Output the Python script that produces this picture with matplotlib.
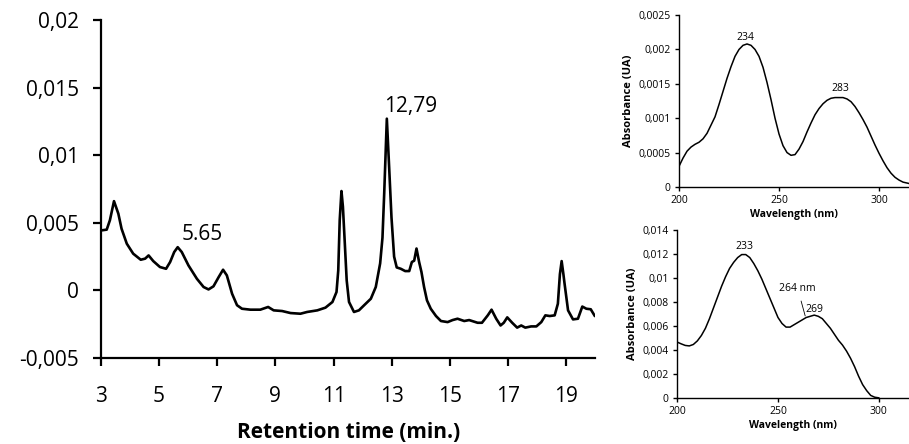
import matplotlib
matplotlib.use("Agg")
import matplotlib.pyplot as plt

plt.rcParams['font.family'] = ['Open Sans', 'DejaVu Sans']

# ---------------- chromatogram ----------------
rt_min = [3.0, 3.20, 3.31, 3.45, 3.60, 3.71, 3.89, 4.11, 4.37, 4.52, 4.64, 4.80, 5.03,
          5.24, 5.38, 5.52, 5.64, 5.78, 6.01, 6.30, 6.53, 6.70, 6.87, 7.05, 7.20, 7.33,
          7.51, 7.68, 7.85, 8.14, 8.48, 8.75, 8.94, 9.23, 9.52, 9.86, 10.09, 10.44,
          10.72, 10.96, 11.10, 11.16, 11.21, 11.27, 11.32, 11.38, 11.45, 11.53, 11.70,
          11.87, 12.05, 12.28, 12.45, 12.60, 12.68, 12.74, 12.83, 12.91, 12.99, 13.08,
          13.17, 13.31, 13.46, 13.60, 13.69, 13.77, 13.85, 13.94, 14.02, 14.11, 14.21,
          14.34, 14.52, 14.69, 14.92, 15.09, 15.26, 15.49, 15.66, 15.95, 16.10, 16.30,
          16.43, 16.59, 16.74, 16.85, 16.97, 17.14, 17.31, 17.45, 17.59, 17.79, 17.97,
          18.14, 18.28, 18.43, 18.60, 18.71, 18.78, 18.84, 18.90, 18.94, 19.06, 19.23,
          19.40, 19.55, 19.69, 19.84, 19.98, 20.0]
absorb = [0.00444, 0.0045, 0.0052, 0.00661, 0.00568, 0.00457, 0.00346, 0.00272,
          0.00227, 0.00235, 0.00259, 0.00217, 0.00173, 0.0016, 0.0021, 0.00284, 0.0032,
          0.00284, 0.00185, 0.00086, 0.00025, 0.00007, 0.0003, 0.00099, 0.00153,
          0.00111, -0.00025, -0.0011, -0.00136, -0.00143, -0.00143, -0.00123, -0.00148,
          -0.00153, -0.00168, -0.00173, -0.0016, -0.00148, -0.00128, -0.00086,
          -0.00012, 0.00148, 0.0052, 0.00736, 0.0062, 0.0037, 0.00074, -0.00086,
          -0.0016, -0.00148, -0.0011, -0.00062, 0.00025, 0.002, 0.0039, 0.0072,
          0.01272, 0.0091, 0.0054, 0.0025, 0.0017, 0.0016, 0.00143, 0.00143, 0.0021,
          0.0022, 0.0031, 0.0021, 0.00136, 0.00025, -0.00074, -0.00136, -0.0019,
          -0.00227, -0.00235, -0.0022, -0.0021, -0.00227, -0.0022, -0.0024, -0.0024,
          -0.00185, -0.00143, -0.0021, -0.0026, -0.0024, -0.0020, -0.0024, -0.00276,
          -0.0026, -0.00276, -0.00267, -0.00267, -0.00235, -0.00185, -0.0019,
          -0.00185, -0.00099, 0.0012, 0.00217, 0.0012, 0.0005, -0.00148, -0.00215,
          -0.0021, -0.0012, -0.00136, -0.0014, -0.0019, -0.0019]

# ---------------- UV spectrum, peak 5.65 ----------------
wl_a = [200, 202, 204, 206, 208, 210, 212, 214, 216, 218, 220, 222, 224, 226, 228, 230,
        232, 234, 236, 238, 240, 242, 244, 246, 248, 250, 252, 254, 256, 258, 260, 262,
        264, 266, 268, 270, 272, 274, 276, 278, 280, 282, 284, 286, 288, 290, 292, 294,
        296, 298, 300, 302, 304, 306, 308, 310, 312, 315]
abs_a = [0.0003, 0.00042, 0.00052, 0.00058, 0.00062, 0.00065, 0.0007, 0.00078, 0.0009,
         0.00102, 0.0012, 0.00139, 0.00158, 0.00175, 0.0019, 0.002, 0.00206, 0.00208,
         0.00206, 0.002, 0.0019, 0.00174, 0.00152, 0.00127, 0.001, 0.00077, 0.0006,
         0.0005, 0.00046, 0.00047, 0.00055, 0.00066, 0.0008, 0.00093, 0.00105,
         0.00114, 0.00121, 0.00126, 0.00129, 0.0013, 0.0013, 0.0013, 0.00128, 0.00124,
         0.00117, 0.00108, 0.00098, 0.00087, 0.00074, 0.00061, 0.00049, 0.00038,
         0.00028, 0.0002, 0.00014, 0.0001, 0.00007, 0.00005]

# ---------------- UV spectrum, peak 12.79 ----------------
wl_b = [200, 202, 204, 206, 208, 210, 212, 214, 216, 218, 220, 222, 224, 226, 228, 230,
        232, 234, 236, 238, 240, 242, 244, 246, 248, 250, 252, 254, 256, 258, 260, 262,
        264, 266, 268, 270, 272, 274, 276, 278, 280, 282, 284, 286, 288, 290, 292, 294,
        296, 298, 300]
abs_b = [0.00465, 0.0045, 0.00437, 0.00433, 0.00445, 0.00475, 0.0052, 0.0058, 0.0066,
         0.0075, 0.0084, 0.0093, 0.0101, 0.0108, 0.0113, 0.0117, 0.01195, 0.01195,
         0.0117, 0.0112, 0.0106, 0.0099, 0.0091, 0.0083, 0.0075, 0.0067, 0.0062,
         0.0059, 0.0059, 0.0061, 0.0063, 0.0065, 0.0067, 0.0068, 0.0069, 0.0068,
         0.0066, 0.0062, 0.0058, 0.0053, 0.0048, 0.0044, 0.0039, 0.0033, 0.0026,
         0.0018, 0.0011, 0.0006, 0.0002, 0.00005, 0.0]

fig = plt.figure(figsize=(9.09, 4.44), dpi=100)

# --- main chromatogram ---
ax = fig.add_axes([0.111, 0.194, 0.544, 0.760])
ax.plot(rt_min, absorb, color='black', linewidth=1.9, solid_joinstyle='round')
ax.set_xlim(3, 20)
ax.set_ylim(-0.005, 0.02)
ax.set_xticks([3, 5, 7, 9, 11, 13, 15, 17, 19])
ax.set_yticks([-0.005, 0, 0.005, 0.01, 0.015, 0.02])
ax.set_yticklabels(['-0,005', '0', '0,005', '0,01', '0,015', '0,02'])
for s in ['top', 'right']:
    ax.spines[s].set_visible(False)
for s in ['left', 'bottom']:
    ax.spines[s].set_linewidth(1.6)
ax.tick_params(axis='both', direction='out', length=6, width=1.6, labelsize=15)
ax.tick_params(axis='y', pad=10)
ax.tick_params(axis='x', pad=14)
ax.set_xlabel('Retention time (min.)', fontsize=15, fontweight='bold', labelpad=11)
ax.text(12.75, 0.0136, '12,79', fontsize=15, ha='left', va='center')
ax.text(5.78, 0.00415, '5.65', fontsize=15, ha='left', va='center')

# --- spectrum top right ---
ax1 = fig.add_axes([0.747, 0.579, 0.253, 0.387])
ax1.plot(wl_a, abs_a, color='black', linewidth=1.1, solid_joinstyle='round')
ax1.set_xlim(200, 315)
ax1.set_ylim(0, 0.0025)
ax1.set_xticks([200, 250, 300])
ax1.set_yticks([0, 0.0005, 0.001, 0.0015, 0.002, 0.0025])
ax1.set_yticklabels(['0', '0,0005', '0,001', '0,0015', '0,002', '0,0025'])
ax1.text(233, 0.00217, '234', fontsize=7.5, ha='center', va='center')
ax1.text(280.5, 0.00143, '283', fontsize=7.5, ha='center', va='center')

# --- spectrum bottom right ---
ax2 = fig.add_axes([0.745, 0.104, 0.255, 0.378])
ax2.plot(wl_b, abs_b, color='black', linewidth=1.1, solid_joinstyle='round')
ax2.set_xlim(200, 315)
ax2.set_ylim(0, 0.014)
ax2.set_xticks([200, 250, 300])
ax2.set_yticks([0, 0.002, 0.004, 0.006, 0.008, 0.01, 0.012, 0.014])
ax2.set_yticklabels(['0', '0,002', '0,004', '0,006', '0,008', '0,01', '0,012', '0,014'])
ax2.text(233.5, 0.0126, '233', fontsize=7.5, ha='center', va='center')
ax2.text(268, 0.0074, '269', fontsize=7.5, ha='center', va='center')
ax2.annotate('264 nm', xy=(263.5, 0.00683), xytext=(259.8, 0.0091),
             fontsize=7.5, ha='center', va='center',
             arrowprops=dict(arrowstyle='-', color='black', lw=0.6, shrinkA=3, shrinkB=0))

for a in (ax1, ax2):
    for s in ['top', 'right']:
        a.spines[s].set_visible(False)
    for s in ['left', 'bottom']:
        a.spines[s].set_linewidth(1.0)
    a.tick_params(axis='both', direction='out', length=3, width=1.0, labelsize=7.5, pad=3)
    a.set_xlabel('Wavelength (nm)', fontsize=7.5, fontweight='bold', labelpad=2)
    a.set_ylabel('Absorbance (UA)', fontsize=8, fontweight='bold', labelpad=3)

fig.savefig('out.png', dpi=100)
